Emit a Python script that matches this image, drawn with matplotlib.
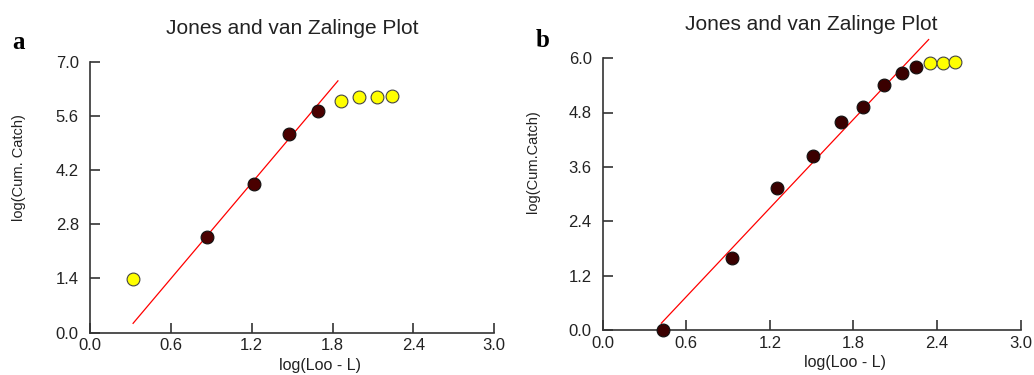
import matplotlib.pyplot as plt

# panel a
a_x_used = [0.87, 1.22, 1.48, 1.69]
a_y_used = [2.48, 3.83, 5.13, 5.73]
a_x_free = [0.32, 1.86, 2.00, 2.13, 2.24]
a_y_free = [1.38, 5.97, 6.08, 6.08, 6.11]
a_line_x = [0.32, 1.84]
a_line_y = [0.24, 6.50]

# panel b
b_x_used = [0.43, 0.93, 1.25, 1.51, 1.71, 1.87, 2.02, 2.15, 2.25]
b_y_used = [0.00, 1.60, 3.14, 3.84, 4.59, 4.93, 5.40, 5.67, 5.81]
b_x_free = [2.35, 2.44, 2.53]
b_y_free = [5.90, 5.90, 5.92]
b_line_x = [0.42, 2.34]
b_line_y = [0.15, 6.41]

x_ticks = [0.0, 0.6, 1.2, 1.8, 2.4, 3.0]
a_y_ticks = [0.0, 1.4, 2.8, 4.2, 5.6, 7.0]
b_y_ticks = [0.0, 1.2, 2.4, 3.6, 4.8, 6.0]

plt.rcParams['font.family'] = ['Liberation Sans', 'DejaVu Sans']

fig = plt.figure(figsize=(10.34, 3.75), dpi=100)
ax1 = fig.add_axes([0.087, 0.113, 0.391, 0.723])
ax2 = fig.add_axes([0.583, 0.120, 0.404, 0.725])


def style(ax, yticks, ylabel):
    ax.set_xlim(0, 3.0)
    ax.set_ylim(0, yticks[-1])
    ax.set_xticks(x_ticks)
    ax.set_yticks(yticks)
    ax.set_xticklabels(['%.1f' % t for t in x_ticks])
    ax.set_yticklabels(['%.1f' % t for t in yticks])
    for s in ['top', 'right']:
        ax.spines[s].set_visible(False)
    for s in ['left', 'bottom']:
        ax.spines[s].set_color('#333333')
        ax.spines[s].set_linewidth(1.2)
    ax.tick_params(direction='in', length=7, width=1.2, color='#333333',
                   labelsize=12, labelcolor='#222222')
    ax.tick_params(axis='x', pad=4)
    ax.tick_params(axis='y', pad=8)
    ax.set_title('Jones and van Zalinge Plot', fontsize=15, color='#222222', pad=20)
    ax.set_xlabel('log(Loo - L)', fontsize=11.5, color='#222222')
    ax.set_ylabel(ylabel, fontsize=10.5, color='#222222')


ax1.plot(a_line_x, a_line_y, color='red', lw=0.9, zorder=2)
ax1.scatter(a_x_used, a_y_used, s=85, color='#4a0000', edgecolors='#111111', lw=0.8, zorder=3)
ax1.scatter(a_x_free, a_y_free, s=85, color='#ffff00', edgecolors='#444444', lw=0.8, zorder=3)
style(ax1, a_y_ticks, 'log(Cum. Catch)')
ax1.xaxis.set_label_coords(0.57, -0.093)
ax1.yaxis.set_label_coords(-0.158, 0.61)

ax2.plot(b_line_x, b_line_y, color='red', lw=0.9, zorder=2, clip_on=False)
ax2.scatter(b_x_used, b_y_used, s=85, color='#3a0000', edgecolors='#111111', lw=0.8, zorder=3, clip_on=False)
ax2.scatter(b_x_free, b_y_free, s=85, color='#ffff00', edgecolors='#444444', lw=0.8, zorder=3, clip_on=False)
style(ax2, b_y_ticks, 'log(Cum.Catch)')
ax2.xaxis.set_label_coords(0.58, -0.093)
ax2.yaxis.set_label_coords(-0.15, 0.62)

fig.text(0.012, 0.87, 'a', fontsize=18, fontweight='bold', family='Liberation Serif')
fig.text(0.518, 0.875, 'b', fontsize=18, fontweight='bold', family='Liberation Serif')

fig.savefig('out.png', dpi=100)
